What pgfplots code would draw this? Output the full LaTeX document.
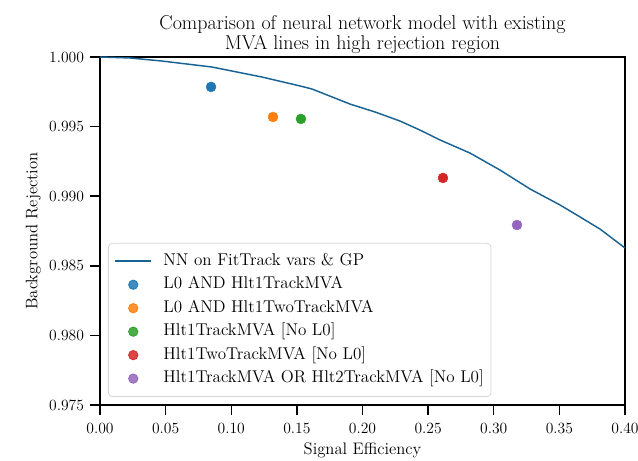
\documentclass[border=0pt]{standalone}
\usepackage{fontspec}
\usepackage{pgfplots}
\pgfplotsset{compat=1.18}

\definecolor{tabblue}{HTML}{1F77B4}
\definecolor{taborange}{HTML}{FF7F0E}
\definecolor{tabgreen}{HTML}{2CA02C}
\definecolor{tabred}{HTML}{D62728}
\definecolor{tabpurple}{HTML}{9467BD}
\colorlet{roccolor}{tabblue!82!black}

\pgfplotsset{
  rocline/.style={color=roccolor, line width=1.1pt,
    legend image code/.code={\draw[roccolor, line width=1.3pt] (0pt,0pt) -- (27pt,0pt);}},
  dotmark/.style={only marks, mark=*, mark size=3.7pt, color=#1,
    mark options={draw=none, fill=#1},
    legend image code/.code={\fill[#1] (13.5pt,0pt) circle[radius=3.5pt];}},
}

\begin{document}
\begin{tikzpicture}[x=0.75pt,y=0.75pt]
\begin{axis}[
  name=ax,
  scale only axis,
  width=393.75pt, height=261pt,
  xmin=0, xmax=0.40, ymin=0.975, ymax=1.000,
  xtick={0,0.05,...,0.40},
  ytick={0.975,0.980,0.985,0.990,0.995,1.000},
  scaled x ticks=false, scaled y ticks=false,
  tick align=outside, xtick pos=bottom, ytick pos=left,
  major tick length=7.5pt,
  tick style={black, line width=1.1pt},
  axis line style={black, line width=1.2pt},
  ticklabel style={font=\fontsize{11.7}{14}\selectfont},
  xticklabel style={yshift=-2.5pt,
    /pgf/number format/.cd, fixed, fixed zerofill, precision=2, assume math mode=true},
  yticklabel style={xshift=-1pt,
    /pgf/number format/.cd, fixed, fixed zerofill, precision=3, assume math mode=true},
  xlabel={Signal Efficiency},
  ylabel={Background Rejection},
  every axis x label/.style={at={([yshift=-36.75pt]axis description cs:0.5,0)},
    anchor=base, font=\fontsize{12.5}{15}\selectfont},
  every axis y label/.style={at={([xshift=-47pt]axis description cs:0,0.5)},
    rotate=90, anchor=base, font=\fontsize{12.5}{15}\selectfont},
  title={Comparison of neural network model with existing\\MVA lines in high rejection region},
  every axis title/.style={at={(axis description cs:0.5,1)}, anchor=south,
    yshift=-0.9pt, align=center, font=\fontsize{15}{15.2}\selectfont},
  legend cell align=left,
  legend style={at={(axis description cs:0,0)}, anchor=south west,
    xshift=6pt, yshift=6pt,
    draw=black!16, line width=0.6pt, rounded corners=3pt,
    fill=white, fill opacity=0.85, text opacity=1,
    font=\fontsize{12.8}{15}\selectfont,
    nodes={inner sep=1pt, text height=9pt, text depth=3pt},
    row sep=3.6pt, column sep=7.5pt,
    inner xsep=4.5pt, inner ysep=6.5pt},
]
% ROC curve of the network
\addplot[rocline] coordinates {
  (0.00000,1.00000) (0.02286,0.99993) (0.04724,0.99971) (0.08533,0.99928)
  (0.12343,0.99856) (0.15238,0.99792) (0.16152,0.99770) (0.19048,0.99662)
  (0.20952,0.99605) (0.22857,0.99540) (0.24381,0.99475) (0.25905,0.99404)
  (0.28190,0.99310) (0.30476,0.99188) (0.32762,0.99052) (0.35048,0.98937)
  (0.36571,0.98851) (0.38095,0.98764) (0.40000,0.98628)
};
\addlegendentry{NN on FitTrack vars \& GP}
% working points of the existing trigger lines
\addplot[dotmark=tabblue] coordinates {(0.0846,0.99785)};
\addlegendentry{L0 AND Hlt1TrackMVA}
\addplot[dotmark=taborange] coordinates {(0.1318,0.99569)};
\addlegendentry{L0 AND Hlt1TwoTrackMVA}
\addplot[dotmark=tabgreen] coordinates {(0.1531,0.99555)};
\addlegendentry{Hlt1TrackMVA [No L0]}
\addplot[dotmark=tabred] coordinates {(0.2613,0.99131)};
\addlegendentry{Hlt1TwoTrackMVA [No L0]}
\addplot[dotmark=tabpurple] coordinates {(0.3177,0.98793)};
\addlegendentry{Hlt1TrackMVA OR Hlt2TrackMVA [No L0]}
\end{axis}
\pgfresetboundingbox
\path[use as bounding box] ([shift={(-100,-55)}]ax.south west) rectangle ([shift={(13,57)}]ax.north east);
\end{tikzpicture}
\end{document}
